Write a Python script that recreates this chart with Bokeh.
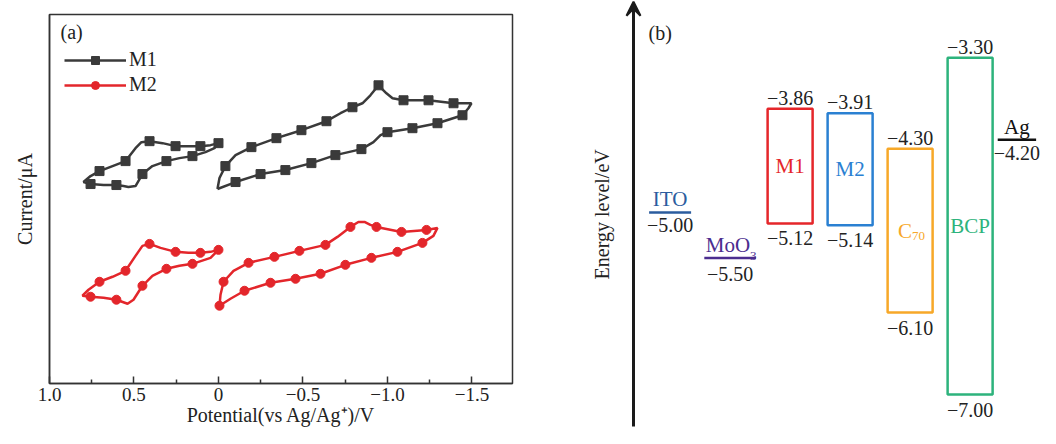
from math import pi
from bokeh.plotting import figure
from bokeh.layouts import row
from bokeh.models import Range1d, FixedTicker, Legend, LegendItem, Arrow, VeeHead, ColumnDataSource
from bokeh.core.properties import value
from bokeh.embed import file_html
from bokeh.resources import INLINE

FONT = "Liberation Serif"

# ---------------- panel (a): cyclic voltammetry ----------------
m1_left_v = [0.000, 0.047, 0.107, 0.178, 0.254, 0.331, 0.408, 0.456, 0.491, 0.550, 0.627, 0.704, 0.757, 0.799,
             0.757, 0.680, 0.604, 0.562, 0.533, 0.491, 0.450, 0.391, 0.308, 0.231, 0.154, 0.077, 0.024, 0.000]
m1_left_i = [24.5, 24.3, 24.2, 24.2, 24.2, 24.5, 24.7, 24.6, 24.0, 22.7, 22.2, 21.7, 21.2, 20.6,
             20.4, 20.3, 20.3, 20.2, 20.1, 20.2, 21.4, 22.2, 22.7, 23.0, 23.2, 23.6, 24.0, 24.5]
m1_left_marks = [0, 2, 4, 6, 9, 11, 14, 16, 20, 22, 24]

m1_right_v = [0.006, -0.006, -0.041, -0.101, -0.195, -0.343, -0.491, -0.639, -0.722, -0.793, -0.852, -0.899,
              -0.947, -0.994, -1.030, -1.095, -1.243, -1.391, -1.497, -1.479, -1.444, -1.296, -1.148, -1.000,
              -0.959, -0.917, -0.846, -0.692, -0.550, -0.396, -0.249, -0.101, 0.006]
m1_right_i = [19.9, 21.0, 22.2, 23.3, 24.1, 25.0, 25.8, 26.7, 27.5, 28.1, 28.5, 29.3,
              30.3, 29.5, 29.0, 28.8, 28.8, 28.5, 28.5, 28.0, 27.3, 26.5, 26.0, 25.6,
              25.3, 24.6, 23.9, 23.3, 22.5, 21.8, 21.4, 20.6, 19.9]
m1_right_marks = [2, 4, 5, 6, 7, 9, 12, 15, 16, 17, 20, 21, 22, 23, 26, 27, 28, 29, 30, 31]

m2_left_v = [0.000, 0.047, 0.107, 0.178, 0.254, 0.343, 0.408, 0.450, 0.491, 0.550, 0.627, 0.704, 0.769,
             0.805, 0.757, 0.680, 0.604, 0.538, 0.503, 0.450, 0.391, 0.308, 0.231, 0.154, 0.047, 0.000]
m2_left_i = [13.8, 13.6, 13.5, 13.5, 13.6, 14.0, 14.4, 14.2, 13.2, 11.7, 11.1, 10.6, 9.8,
             9.2, 9.1, 9.0, 8.8, 8.4, 8.8, 10.2, 11.2, 11.9, 12.2, 12.4, 13.0, 13.8]
m2_left_marks = [0, 2, 4, 6, 9, 11, 14, 16, 19, 21, 23]

m2_right_v = [-0.006, -0.012, -0.030, -0.089, -0.178, -0.331, -0.479, -0.633, -0.704, -0.781, -0.828, -0.864,
              -0.899, -0.935, -1.083, -1.231, -1.296, -1.272, -1.207, -1.059, -0.905, -0.751, -0.604, -0.456,
              -0.308, -0.154, -0.071, -0.006]
m2_right_i = [8.2, 9.3, 10.6, 11.7, 12.5, 13.1, 13.7, 14.3, 15.1, 16.1, 16.6, 16.6,
              16.3, 16.1, 15.6, 15.8, 16.0, 15.2, 14.5, 13.6, 13.0, 12.3, 11.4, 10.9,
              10.5, 9.7, 8.9, 8.2]
m2_right_marks = [0, 2, 4, 5, 6, 7, 9, 13, 14, 15, 18, 19, 20, 21, 22, 23, 24, 25]

x_ticks = [1.0, 0.5, 0.0, -0.5, -1.0, -1.5]
x_minor = [0.75, 0.25, -0.25, -0.75, -1.25]
x_tick_labels = ["1.0", "0.5", "0", "\u22120.5", "\u22121.0", "\u22121.5"]

M1_COLOR = "#3a3a3a"
M2_COLOR = "#e3262b"

pa = figure(width=540, height=428, x_range=Range1d(1.0, -1.74), y_range=Range1d(0.4, 37.4),
            output_backend="svg", toolbar_location=None,
            min_border_left=49, min_border_right=28, min_border_top=14, min_border_bottom=30)
pa.frame_align = False
pa.grid.visible = False
pa.outline_line_color = "#333333"
pa.outline_line_width = 1.5
pa.background_fill_color = "white"

xa = pa.xaxis[0]
xa.ticker = FixedTicker(ticks=x_ticks, minor_ticks=x_minor)
xa.major_label_overrides = {t: l for t, l in zip(x_ticks, x_tick_labels)}
xa.major_tick_in = 7
xa.major_tick_out = 0
xa.minor_tick_in = 4
xa.minor_tick_out = 0
xa.major_tick_line_color = "#333333"
xa.minor_tick_line_color = "#333333"
xa.major_tick_line_width = 1.5
xa.minor_tick_line_width = 1.5
xa.axis_line_color = "#333333"
xa.axis_line_width = 1.5
xa.major_label_text_font = FONT
xa.major_label_text_font_size = "19px"
xa.major_label_text_color = "#222222"
xa.major_label_standoff = 4
xa.axis_label = "Potential(vs Ag/Ag\u207a)/V"
xa.axis_label_text_font = FONT
xa.axis_label_text_font_size = "20px"
xa.axis_label_text_font_style = "normal"
xa.axis_label_text_color = "#222222"
xa.axis_label_standoff = 0

ya = pa.yaxis[0]
ya.ticker = FixedTicker(ticks=[])
ya.major_tick_line_color = None
ya.minor_tick_line_color = None
ya.axis_line_color = "#333333"
ya.axis_line_width = 1.5
ya.axis_label = "Current/\u03bcA"
ya.axis_label_text_font = FONT
ya.axis_label_text_font_size = "20px"
ya.axis_label_text_font_style = "normal"
ya.axis_label_text_color = "#222222"
ya.axis_label_standoff = 14

def pick(vals, idx):
    return [vals[k] for k in idx]

l1a = pa.line(m1_left_v, m1_left_i, line_color=M1_COLOR, line_width=2.5)
l1b = pa.line(m1_right_v, m1_right_i, line_color=M1_COLOR, line_width=2.5)
s1 = pa.scatter(pick(m1_left_v, m1_left_marks) + pick(m1_right_v, m1_right_marks),
                pick(m1_left_i, m1_left_marks) + pick(m1_right_i, m1_right_marks),
                marker="square", size=9, fill_color=M1_COLOR, line_color=M1_COLOR)
l2a = pa.line(m2_left_v, m2_left_i, line_color=M2_COLOR, line_width=2.5)
l2b = pa.line(m2_right_v, m2_right_i, line_color=M2_COLOR, line_width=2.5)
s2 = pa.scatter(pick(m2_left_v, m2_left_marks) + pick(m2_right_v, m2_right_marks),
                pick(m2_left_i, m2_left_marks) + pick(m2_right_i, m2_right_marks),
                marker="circle", size=9, fill_color=M2_COLOR, line_color=M2_COLOR)

pa.text(x=[0.935], y=[35.6], text=["(a)"], text_font=value(FONT), text_font_size="20px",
        text_color="#222222", text_align="left", text_baseline="middle")

legend = Legend(items=[LegendItem(label="M1", renderers=[l1a, s1]),
                       LegendItem(label="M2", renderers=[l2a, s2])],
                location=(15, 287), glyph_width=62, glyph_height=20, label_height=20,
                spacing=2, padding=0, margin=0,
                label_text_font=FONT, label_text_font_size="20px", label_text_color="#222222",
                label_standoff=3, background_fill_alpha=0, border_line_color=None)
pa.add_layout(legend)

# ---------------- panel (b): energy levels ----------------
box_names = ["M1", "M2", "C", "BCP"]
box_subs = ["", "", "70", ""]
box_lumo = [-3.86, -3.91, -4.30, -3.30]
box_homo = [-5.12, -5.14, -6.10, -7.00]
box_colors = ["#e5262a", "#2a80d2", "#f7a828", "#2db37c"]

elec_names = ["ITO", "MoO", "Ag"]
elec_subs = ["", "3", ""]
elec_levels = [-5.00, -5.50, -4.20]
elec_colors = ["#2b5c9e", "#4b2d8f", "#111111"]
elec_text_colors = ["#2b5c9e", "#4b2d8f", "#111111"]

box_pos = [2, 3, 4, 5]
elec_pos = [0, 1, 5.78]
elec_half = [0.35, 0.43, 0.32]
elec_name_dy = [-2, -1, -1]
elec_val_dy = [5, 9, 6]

def fmt(v):
    return "\u2212%.2f" % abs(v)

pb = figure(width=500, height=428, x_range=Range1d(-2.16, 6.173), y_range=Range1d(-7.3736, -2.670),
            x_axis_type=None, y_axis_type=None,
            output_backend="svg", toolbar_location=None,
            min_border_left=0, min_border_right=0, min_border_top=0, min_border_bottom=0)
pb.frame_align = False
pb.grid.visible = False
pb.outline_line_color = None

pb.add_layout(Arrow(end=VeeHead(size=14, fill_color="#1a1a1a", line_color="#1a1a1a", line_width=2),
                    x_start=-0.61, y_start=-7.352, x_end=-0.61, y_end=-2.684,
                    line_color="#1a1a1a", line_width=3))
pb.text(x=[-1.127], y=[-5.02], text=["Energy level/eV"], angle=pi / 2, text_font=value(FONT),
        text_font_size="20px", text_color="#222222", text_align="center", text_baseline="middle")
pb.text(x=[-0.36], y=[-3.022], text=["(b)"], text_font=value(FONT), text_font_size="20px",
        text_color="#222222", text_align="left", text_baseline="middle")

bsrc = ColumnDataSource(dict(
    x=box_pos, left=[p - 0.375 for p in box_pos], right=[p + 0.375 for p in box_pos],
    top=box_lumo, bottom=box_homo, color=box_colors,
    mid=[(a + b) / 2 for a, b in zip(box_lumo, box_homo)],
    name=box_names, sub=box_subs,
    ttop=[fmt(v) for v in box_lumo], tbot=[fmt(v) for v in box_homo]))
pb.quad(left="left", right="right", top="top", bottom="bottom", source=bsrc,
        fill_color=None, line_color="color", line_width=2.5)
pb.text(x="x", y="top", text="ttop", source=bsrc, text_font=value(FONT), text_font_size="20px",
        text_color="#222222", text_align="center", text_baseline="bottom", y_offset=-4)
pb.text(x="x", y="bottom", text="tbot", source=bsrc, text_font=value(FONT), text_font_size="20px",
        text_color="#222222", text_align="center", text_baseline="top", y_offset=8)
has_sub = [s != "" for s in box_subs]
mids = bsrc.data["mid"]
pb.text(x=[p for p, h in zip(box_pos, has_sub) if not h], y=[m for m, h in zip(mids, has_sub) if not h],
        text=[n for n, h in zip(box_names, has_sub) if not h],
        text_color=[c for c, h in zip(box_colors, has_sub) if not h],
        text_font=value(FONT), text_font_size="21px", text_align="center", text_baseline="middle")
pb.text(x=[p for p, h in zip(box_pos, has_sub) if h], y=[m for m, h in zip(mids, has_sub) if h],
        text=[n for n, h in zip(box_names, has_sub) if h],
        text_color=[c for c, h in zip(box_colors, has_sub) if h],
        text_font=value(FONT), text_font_size="21px", text_align="right", text_baseline="middle", x_offset=2)
pb.text(x=[p for p, h in zip(box_pos, has_sub) if h], y=[m for m, h in zip(mids, has_sub) if h],
        text=[s for s, h in zip(box_subs, has_sub) if h],
        text_color=[c for c, h in zip(box_colors, has_sub) if h],
        text_font=value(FONT), text_font_size="13px", text_align="left", text_baseline="middle",
        x_offset=2, y_offset=5)

esrc = ColumnDataSource(dict(
    x=elec_pos, x0=[p - h for p, h in zip(elec_pos, elec_half)], x1=[p + h for p, h in zip(elec_pos, elec_half)],
    y=elec_levels, color=elec_colors, tcolor=elec_text_colors, vdy=elec_val_dy,
    name=elec_names, sub=elec_subs, tval=[fmt(v) for v in elec_levels]))
pb.segment(x0="x0", x1="x1", y0="y", y1="y", source=esrc, line_color="color", line_width=2.5)
pb.text(x="x", y="y", text="tval", source=esrc, text_font=value(FONT), text_font_size="20px",
        text_color="#222222", text_align="center", text_baseline="top", y_offset="vdy")
e_sub = [s != "" for s in elec_subs]
pb.text(x=[p for p, h in zip(elec_pos, e_sub) if not h], y=[v for v, h in zip(elec_levels, e_sub) if not h],
        text=[n for n, h in zip(elec_names, e_sub) if not h],
        text_color=[c for c, h in zip(elec_text_colors, e_sub) if not h],
        y_offset=[d for d, h in zip(elec_name_dy, e_sub) if not h],
        text_font=value(FONT), text_font_size="21px", text_align="center", text_baseline="bottom")
pb.text(x=[p for p, h in zip(elec_pos, e_sub) if h], y=[v for v, h in zip(elec_levels, e_sub) if h],
        text=[n for n, h in zip(elec_names, e_sub) if h],
        text_color=[c for c, h in zip(elec_text_colors, e_sub) if h],
        text_font=value(FONT), text_font_size="21px", text_align="right", text_baseline="bottom",
        x_offset=20, y_offset=-1)
pb.text(x=[p for p, h in zip(elec_pos, e_sub) if h], y=[v for v, h in zip(elec_levels, e_sub) if h],
        text=[s for s, h in zip(elec_subs, e_sub) if h],
        text_color=[c for c, h in zip(elec_text_colors, e_sub) if h],
        text_font=value(FONT), text_font_size="13px", text_align="left", text_baseline="bottom",
        x_offset=20, y_offset=2)

layout = row(pa, pb)
open("out.html", "w").write(file_html(layout, INLINE))
